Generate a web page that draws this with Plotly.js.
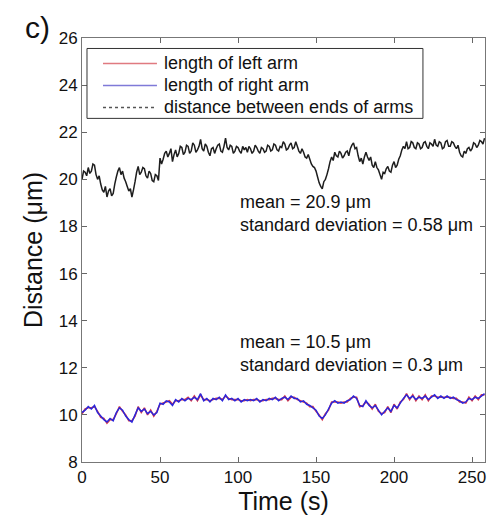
<!DOCTYPE html>
<html>
<head>
<meta charset="utf-8">
<script src="https://cdn.plot.ly/plotly-3.0.1.min.js"></script>
<style>html,body{margin:0;padding:0;background:#fff;}#chart{width:497px;height:518px;}</style>
</head>
<body>
<div id="chart"></div>
<script>
// time (s) for the arm-length traces
const timeArms = [0,2,4,6,8,10,12,14,16,18,20,22,24,26,28,30,32,34,36,38,40,42,44,46,48,50,52,54,56,58,60,62,64,66,68,70,72,74,76,78,80,82,84,86,88,90,92,94,96,98,100,102,104,106,108,110,112,114,116,118,120,122,124,126,128,130,132,134,136,138,140,142,144,146,148,150,152,154,156,158,160,162,164,166,168,170,172,174,176,178,180,182,184,186,188,190,192,194,196,198,200,202,204,206,208,210,212,214,216,218,220,222,224,226,228,230,232,234,236,238,240,242,244,246,248,250,252,254,256,258];

// time (s) for the end-to-end distance trace
const timeEnds = [0,1,2,3,4,5,6,7,8,9,10,11,12,13,14,15,16,17,18,19,20,21,22,23,24,25,26,27,28,29,30,31,32,33,34,35,36,37,38,39,40,41,42,43,44,45,46,47,48,49,50,51,52,53,54,55,56,57,58,59,60,61,62,63,64,65,66,67,68,69,70,71,72,73,74,75,76,77,78,79,80,81,82,83,84,85,86,87,88,89,90,91,92,93,94,95,96,97,98,99,100,101,102,103,104,105,106,107,108,109,110,111,112,113,114,115,116,117,118,119,120,121,122,123,124,125,126,127,128,129,130,131,132,133,134,135,136,137,138,139,140,141,142,143,144,145,146,147,148,149,150,151,152,153,154,155,156,157,158,159,160,161,162,163,164,165,166,167,168,169,170,171,172,173,174,175,176,177,178,179,180,181,182,183,184,185,186,187,188,189,190,191,192,193,194,195,196,197,198,199,200,201,202,203,204,205,206,207,208,209,210,211,212,213,214,215,216,217,218,219,220,221,222,223,224,225,226,227,228,229,230,231,232,233,234,235,236,237,238,239,240,241,242,243,244,245,246,247,248,249,250,251,252,253,254,255,256,257,258];

const distanceEnds = [20.0,20.35,20.3,20.15,20.5,20.25,20.35,20.65,20.6,20.2,
20.0,20.15,19.8,19.55,19.45,19.7,19.25,19.5,19.6,19.3,
19.4,19.8,20.1,20.35,20.5,20.2,20.35,20.05,19.9,19.7,
19.5,19.6,19.25,19.55,19.9,20.3,20.55,20.2,20.3,20.5,
20.45,20.15,20.05,20.35,20.25,19.95,19.9,20.2,20.15,19.95,
20.9,20.65,20.85,21.1,21.2,20.95,21.1,21.3,20.75,21.05,
21.25,20.95,21.1,21.4,21.35,21.05,21.15,21.45,21.4,21.1,
21.2,21.55,21.45,21.15,21.25,21.4,21.7,21.3,21.2,21.5,
21.4,21.15,21.0,21.3,21.35,21.1,21.3,21.45,21.5,21.2,
21.15,21.4,21.75,21.35,21.25,21.45,21.4,21.1,21.2,21.4,
21.35,21.2,21.1,21.4,21.25,21.35,21.15,21.4,21.3,21.1,
21.2,21.45,21.35,21.2,21.1,21.35,21.3,21.15,21.2,21.45,
21.4,21.2,21.25,21.5,21.45,21.25,21.2,21.4,21.35,21.6,
21.5,21.25,21.3,21.45,21.55,21.3,21.35,21.6,21.4,21.2,
21.1,21.3,21.15,20.95,20.9,21.05,20.85,20.65,20.55,20.5,
20.35,20.1,19.85,19.7,19.6,19.9,20.0,20.2,20.45,20.75,
20.95,20.8,21.15,21.0,20.95,21.2,21.1,20.9,21.0,21.15,
21.2,21.0,21.3,21.45,21.55,21.3,21.35,21.0,20.75,20.9,
20.65,20.95,21.15,20.95,20.8,20.95,20.6,20.5,20.75,20.5,
20.4,20.2,20.0,20.3,20.25,20.45,20.55,20.35,20.3,20.6,
20.75,20.5,20.6,20.85,21.0,21.25,21.4,21.3,21.6,21.3,
21.35,21.6,21.55,21.35,21.3,21.55,21.5,21.3,21.35,21.55,
21.6,21.4,21.3,21.55,21.5,21.4,21.7,21.45,21.4,21.6,
21.55,21.3,21.35,21.6,21.65,21.4,21.4,21.6,21.55,21.4,
21.3,21.45,21.15,21.0,20.95,21.2,21.1,21.3,21.35,21.2,
21.3,21.55,21.5,21.35,21.45,21.65,21.6,21.5,21.75];

const rightArm = [10.1,10.2,10.35,10.25,10.4,10.1,9.95,9.8,9.7,9.85,9.75,10.1,10.3,10.2,9.95,9.8,9.7,10.0,10.3,10.15,10.25,10.05,10.15,10.0,10.1,10.5,10.45,10.6,10.55,10.4,10.65,10.55,10.7,10.6,10.7,10.65,10.75,10.65,10.9,10.6,10.7,10.55,10.7,10.65,10.75,10.6,10.85,10.65,10.7,10.6,10.7,10.55,10.65,10.6,10.65,10.6,10.7,10.55,10.65,10.6,10.7,10.65,10.75,10.6,10.7,10.75,10.65,10.8,10.7,10.7,10.55,10.6,10.45,10.4,10.3,10.2,9.95,9.85,10.0,10.25,10.5,10.6,10.5,10.55,10.5,10.6,10.65,10.8,10.7,10.4,10.35,10.6,10.4,10.3,10.4,10.2,10.0,10.15,10.3,10.15,10.4,10.3,10.5,10.7,10.85,10.7,10.8,10.65,10.75,10.7,10.8,10.65,10.75,10.85,10.7,10.8,10.7,10.8,10.7,10.75,10.65,10.6,10.5,10.55,10.7,10.65,10.75,10.7,10.8,10.9];

const leftArm = [10.05,10.25,10.3,10.3,10.35,10.15,9.9,9.85,9.65,9.8,9.8,10.05,10.35,10.15,10.0,9.75,9.75,9.95,10.35,10.1,10.3,10.0,10.2,9.95,10.15,10.45,10.5,10.55,10.6,10.45,10.6,10.6,10.65,10.65,10.75,10.6,10.8,10.6,10.85,10.65,10.65,10.6,10.65,10.7,10.7,10.65,10.8,10.7,10.65,10.65,10.65,10.6,10.6,10.65,10.6,10.65,10.65,10.6,10.6,10.65,10.65,10.7,10.7,10.65,10.65,10.8,10.6,10.75,10.75,10.65,10.6,10.55,10.5,10.35,10.35,10.15,10.0,9.8,10.05,10.2,10.55,10.55,10.55,10.5,10.55,10.55,10.7,10.75,10.75,10.35,10.4,10.55,10.45,10.25,10.45,10.15,10.05,10.1,10.35,10.1,10.45,10.25,10.55,10.65,10.9,10.65,10.85,10.6,10.8,10.65,10.85,10.6,10.8,10.8,10.75,10.75,10.75,10.75,10.75,10.7,10.7,10.55,10.55,10.5,10.75,10.6,10.8,10.65,10.85,10.85];

const legendNames = ["length of left arm","length of right arm","distance between ends of arms"];
const yTicks = [8,10,12,14,16,18,20,22,24,26];
const xTicks = [0,50,100,150,200,250];
const noteTop = "mean = 20.9 \u03bcm<br>standard deviation = 0.58 \u03bcm";
const noteBottom = "mean = 10.5 \u03bcm<br>standard deviation = 0.3 \u03bcm";

const FONT = "Liberation Sans, Arial, sans-serif";
const COLORS = ["#d83a48", "#2a26dc", "#1e1e1e"];
const LEGEND_COLORS = ["#e07a80", "#7f7ad8", "#555555"];

const traces = [
  {x: timeArms, y: leftArm, name: legendNames[0], type: "scatter", mode: "lines", line: {color: COLORS[0], width: 1.6, simplify: false}, showlegend: false},
  {x: timeArms, y: rightArm, name: legendNames[1], type: "scatter", mode: "lines", line: {color: COLORS[1], width: 1.5, simplify: false}, showlegend: false},
  {x: timeEnds, y: distanceEnds, name: legendNames[2], type: "scatter", mode: "lines", line: {color: COLORS[2], width: 1.5, simplify: false}, showlegend: false}
];

function note(txt, x, y) {
  return {text: txt, x: x, y: y, xref: "x", yref: "y", xanchor: "left", yanchor: "middle", align: "left", showarrow: false, font: {family: FONT, size: 18, color: "#111"}};
}

// legend box drawn as shapes + text
const legRows = [0.940, 0.888, 0.8363];
const shapes = [
  {type: "rect", xref: "paper", yref: "paper", x0: 0.0124, x1: 0.846, y0: 0.8104, y1: 0.9753, line: {color: "#333", width: 1}, fillcolor: "#fff", layer: "above"}
];
const annotations = [
  note(noteTop, 100, 18.55),
  note(noteBottom, 100, 12.6),
  {text: "c)", xref: "paper", yref: "paper", x: -0.146, y: 1.025, xanchor: "left", yanchor: "middle", showarrow: false, font: {family: FONT, size: 30, color: "#111"}}
];
legendNames.forEach(function (nm, i) {
  shapes.push({type: "line", xref: "paper", yref: "paper", x0: 0.0521, x1: 0.186, y0: legRows[i], y1: legRows[i], line: {color: LEGEND_COLORS[i], width: 1.5, dash: i === 2 ? "dot" : "solid"}, layer: "above"});
  annotations.push({text: nm, xref: "paper", yref: "paper", x: 0.199, y: legRows[i], xanchor: "left", yanchor: "middle", showarrow: false, font: {family: FONT, size: 18, color: "#111"}});
});

const layout = {
  width: 497, height: 518,
  margin: {l: 82, r: 12, t: 37.5, b: 56},
  paper_bgcolor: "#fff", plot_bgcolor: "#fff",
  font: {family: FONT, color: "#111"},
  showlegend: false,
  xaxis: {range: [0, 258.3], tickvals: xTicks, ticktext: xTicks.map(String), ticks: "inside", ticklen: 5, tickcolor: "#666", showline: true, linecolor: "#777", linewidth: 1, mirror: "ticks", showgrid: false, zeroline: false, tickfont: {family: FONT, size: 17, color: "#111"}, title: {text: "Time (s)", font: {family: FONT, size: 25, color: "#111"}, standoff: 4}},
  yaxis: {range: [8, 26], tickvals: yTicks, ticktext: yTicks.map(String), ticks: "inside", ticklen: 5, tickcolor: "#666", showline: true, linecolor: "#777", linewidth: 1, mirror: "ticks", showgrid: false, zeroline: false, tickfont: {family: FONT, size: 17, color: "#111"}, title: {text: "Distance (\u03bcm)", font: {family: FONT, size: 25, color: "#111"}, standoff: 8}},
  shapes: shapes,
  annotations: annotations
};

Plotly.newPlot("chart", traces, layout, {displayModeBar: false, staticPlot: true});
</script>
</body>
</html>
